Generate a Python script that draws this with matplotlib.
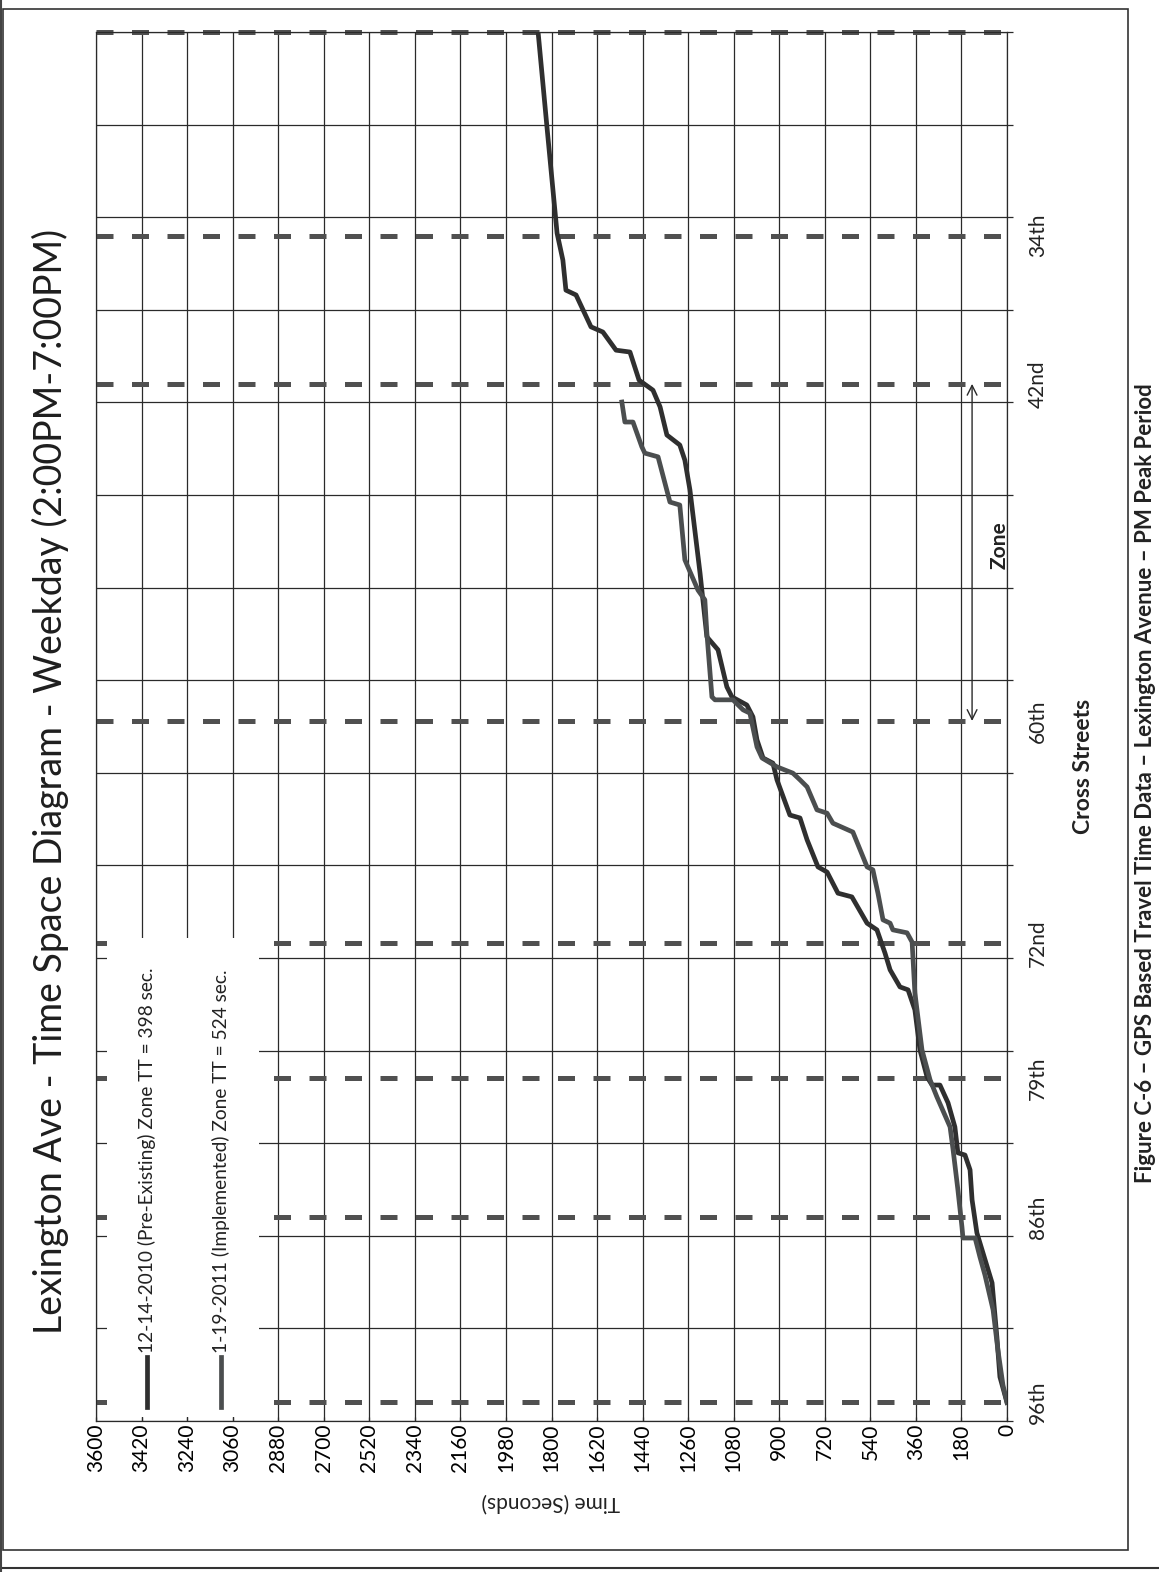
import numpy as np
import matplotlib.pyplot as plt
from matplotlib.patches import Rectangle
from matplotlib.lines import Line2D

plt.rcParams['font.family'] = ['Lato', 'DejaVu Sans']

# ---- data -------------------------------------------------------------
# time axis (seconds)
time_ticks = np.arange(0, 3601, 180)

# cross streets, distance along Lexington Ave from the origin (miles)
street_names = ['96th', '86th', '79th', '72nd', '60th', '42nd', '34th']
street_pos = [0.05, 0.55, 0.925, 1.29, 1.89, 2.80, 3.20]
end_pos = 3.75
dist_grid = np.arange(0, 3.76, 0.25)

# 12-14-2010 (Pre-Existing): elapsed time (s) vs distance (mi)
pre_t = [0, 28, 40, 59, 95, 119, 138, 146, 166, 194, 206, 233, 265, 296, 316,
         344, 364, 391, 423, 462, 482, 514, 553, 613, 668, 711, 747, 790, 818,
         858, 909, 925, 964, 988, 1004, 1028, 1087, 1107, 1142, 1186, 1213,
         1253, 1273, 1293, 1344, 1371, 1399, 1454, 1490, 1545, 1597, 1644,
         1703, 1743, 1755, 1778, 1818, 1853]
pre_d = [0.05, 0.119, 0.227, 0.373, 0.454, 0.508, 0.597, 0.678, 0.718, 0.724,
         0.794, 0.859, 0.907, 0.907, 0.929, 1.002, 1.110, 1.164, 1.172, 1.218,
         1.263, 1.326, 1.344, 1.415, 1.425, 1.482, 1.496, 1.569, 1.628, 1.636,
         1.731, 1.776, 1.790, 1.839, 1.901, 1.933, 1.955, 1.982, 2.082, 2.117,
         2.289, 2.514, 2.594, 2.635, 2.662, 2.738, 2.783, 2.810, 2.886, 2.891,
         2.940, 2.954, 3.040, 3.053, 3.134, 3.207, 3.494, 3.750]

# 1-19-2011 (Implemented)
imp_t = [0, 16, 36, 55, 87, 107, 126, 174, 178, 194, 213, 225, 277, 304, 336,
         364, 375, 395, 451, 462, 490, 510, 530, 553, 569, 609, 688, 711, 751,
         790, 818, 846, 909, 968, 988, 1016, 1043, 1083, 1154, 1166, 1186, 1194,
         1221, 1261, 1273, 1293, 1332, 1379, 1431, 1443, 1478, 1510, 1522]
imp_d = [0.05, 0.097, 0.192, 0.300, 0.394, 0.443, 0.494, 0.494, 0.524, 0.624,
         0.732, 0.794, 0.875, 0.921, 1.002, 1.156, 1.293, 1.318, 1.326, 1.344,
         1.353, 1.425, 1.488, 1.496, 1.523, 1.590, 1.614, 1.641, 1.650, 1.712,
         1.731, 1.749, 1.766, 1.790, 1.820, 1.911, 1.920, 1.947, 1.947, 1.955,
         2.127, 2.217, 2.243, 2.306, 2.325, 2.473, 2.481, 2.603, 2.613, 2.630,
         2.697, 2.697, 2.751]

pre_label = '12-14-2010 (Pre-Existing) Zone TT = 398 sec.'
imp_label = '1-19-2011 (Implemented) Zone TT = 524 sec.'
title = 'Lexington Ave - Time Space Diagram - Weekday (2:00PM-7:00PM)'
caption = 'Figure C-6 \u2013 GPS Based Travel Time Data \u2013 Lexington Avenue \u2013 PM Peak Period'

# ---- figure (page is rotated 90 deg: time runs right->left) ------------
W, H = 1159, 1572
fig = plt.figure(figsize=(W / 100, H / 100), dpi=100)


def fx(px):
    return px / W


def fy(py):
    return 1 - py / H


ink = '#2a2a2a'
ax = fig.add_axes([fx(96), fy(1421), (1007 - 96) / W, (1421 - 32) / H])
ax.set_xlim(3600, 0)
ax.set_ylim(0, end_pos)

ax.set_xticks(time_ticks)
ax.set_xticklabels([str(t) for t in time_ticks], rotation=90, fontsize=15)
ax.set_yticks(dist_grid)
ax.set_yticklabels([])
ax.yaxis.tick_right()
ax.tick_params(axis='y', direction='out', length=4.5, width=0.9, color=ink)
ax.tick_params(axis='x', direction='in', length=3, width=0.9, pad=2, color=ink)
ax.grid(True, color=ink, lw=0.9)
ax.set_axisbelow(True)
for s in ax.spines.values():
    s.set_color(ink)
    s.set_linewidth(0.9)

# cross street markers
for p in street_pos:
    ax.axhline(p, color='#505050', lw=3.6, dashes=(3.4, 3.7), zorder=1.5)
ax.axhline(end_pos, color='#505050', lw=3.6, dashes=(3.4, 3.7), zorder=1.5,
           clip_on=False)
for name, p in zip(street_names, street_pos):
    ax.text(1.034, p, name, transform=ax.get_yaxis_transform(), rotation=90,
            ha='center', va='center', fontsize=15, color='#222')

# legend area (white box covering the grid)
ax.add_patch(Rectangle((0.012, 0.003), 0.167, 0.345, transform=ax.transAxes,
                       fc='white', ec='none', zorder=2))

# data
pre_color = '#2f2f2f'
imp_color = '#4b4e4f'
ax.plot(pre_t, pre_d, color=pre_color, lw=3.4, zorder=3, solid_joinstyle='round')
ax.plot(imp_t, imp_d, color=imp_color, lw=3.4, zorder=3, solid_joinstyle='round')

# legend entries
for xa, col, lab in [(0.056, pre_color, pre_label), (0.137, imp_color, imp_label)]:
    ax.add_line(Line2D([xa, xa], [0.010, 0.046], transform=ax.transAxes,
                       color=col, lw=3.4, zorder=4))
    ax.text(xa, 0.049, lab, transform=ax.transAxes, rotation=90, ha='center',
            va='bottom', fontsize=13.8, color='#222', zorder=4)

# zone arrow
ax.annotate('', xy=(138, street_pos[5]), xytext=(138, street_pos[4]),
            arrowprops=dict(arrowstyle='<->,head_length=0.7,head_width=0.35',
                            lw=1.0, color=ink, shrinkA=0, shrinkB=0), zorder=4)
ax.text(28, 2.365, 'Zone', rotation=90, ha='center', va='center',
        fontsize=15, fontweight='bold', color='#222', zorder=5, clip_on=False)

# titles
fig.text(fx(50), fy(781), title, rotation=90, ha='center', va='center',
         fontsize=27, color='#1e1e1e')
fig.text(fx(1083), fy(766), 'Cross Streets', rotation=90, ha='center',
         va='center', fontsize=16.5, fontweight='bold', color='#222')
fig.text(fx(551), fy(1502), 'Time (Seconds)', rotation=180, ha='center',
         va='center', fontsize=15, color='#222')
fig.text(fx(1146), fy(783), caption, rotation=90, ha='center', va='center',
         fontsize=16, fontweight='bold', color='#222')

# page frame
fig.add_artist(Rectangle((fx(3), fy(1550)), (1128 - 3) / W, (1550 - 9) / H,
                         transform=fig.transFigure, fill=False, ec='#333',
                         lw=1.2))
fig.add_artist(Line2D([0, 1], [fy(1568), fy(1568)], transform=fig.transFigure,
                      color='#333', lw=1.5))
fig.add_artist(Line2D([fx(1), fx(1)], [0, 1], transform=fig.transFigure,
                      color='#444', lw=1.5))

fig.savefig('out.png', dpi=100)
